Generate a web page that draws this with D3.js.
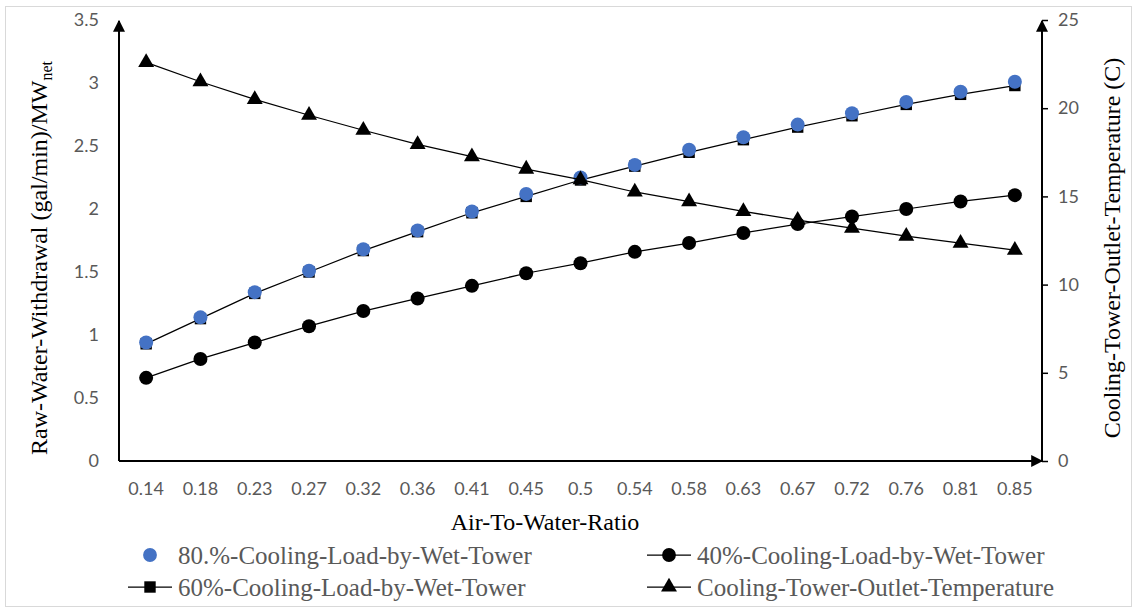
<!DOCTYPE html>
<html>
<head>
<meta charset="utf-8">
<script src="https://cdn.jsdelivr.net/npm/d3@7"></script>
<style>
  body { margin: 0; background: #fff; }
  svg { display: block; }
</style>
</head>
<body>
<svg id="chart"></svg>
<script>
// chart values
const ratios = ['0.14', '0.18', '0.23', '0.27', '0.32', '0.36', '0.41', '0.45', '0.5',
  '0.54', '0.58', '0.63', '0.67', '0.72', '0.76', '0.81', '0.85'];
const load80 = [0.94, 1.14, 1.34, 1.51, 1.68, 1.83, 1.98, 2.12, 2.25, 2.35, 2.47, 2.57, 2.67, 2.76, 2.85, 2.93, 3.01];
const load60 = [0.93, 1.13, 1.33, 1.50, 1.67, 1.82, 1.97, 2.10, 2.23, 2.34, 2.45, 2.55, 2.65, 2.74, 2.83, 2.91, 2.98];
const load40 = [0.66, 0.81, 0.94, 1.07, 1.19, 1.29, 1.39, 1.49, 1.57, 1.66, 1.73, 1.81, 1.88, 1.94, 2.00, 2.06, 2.11];
const outletTemp = [22.6, 21.5, 20.5, 19.6, 18.75, 17.95, 17.25, 16.55, 15.95, 15.25, 14.7, 14.15, 13.65, 13.2, 12.75, 12.35, 11.95];
const leftTicks = [0, 0.5, 1, 1.5, 2, 2.5, 3, 3.5];
const rightTicks = [0, 5, 10, 15, 20, 25];

const width = 1137;
const height = 609;
const margin = { left: 119, right: 95, top: 20, bottom: 148 };
const gray = '#595959';
const serif = '"Liberation Serif", "Times New Roman", serif';
const sans = 'Lato, "Open Sans", sans-serif';

const svg = d3.select('#chart')
  .attr('width', width)
  .attr('height', height);

// outer frame
svg.append('rect')
  .attr('x', 5.5).attr('y', 6.5)
  .attr('width', 1126).attr('height', 600)
  .style('fill', 'none')
  .style('stroke', '#d9d9d9');

const x = d3.scaleBand()
  .domain(ratios)
  .range([margin.left, width - margin.right]);

const yL = d3.scaleLinear()
  .domain([0, 3.5])
  .range([height - margin.bottom, margin.top]);

const yR = d3.scaleLinear()
  .domain([0, 25])
  .range([height - margin.bottom, margin.top]);

const cx = d => x(d) + x.bandwidth() / 2;

// arrow marker for axis ends
svg.append('defs').append('marker')
  .attr('id', 'arrow')
  .attr('viewBox', '0 0 10 10')
  .attr('refX', 9).attr('refY', 5)
  .attr('markerWidth', 6).attr('markerHeight', 6)
  .attr('markerUnits', 'strokeWidth')
  .attr('orient', 'auto')
  .append('path')
  .attr('d', 'M0,0L10,5L0,10Z')
  .style('fill', '#000');

// axes
const xAxis = svg.append('g')
  .attr('transform', `translate(0,${height - margin.bottom})`)
  .call(d3.axisBottom(x).tickSize(0).tickPadding(21));
xAxis.select('.domain').remove();
xAxis.selectAll('text').style('font-family', sans).style('font-size', '18px').style('fill', gray);

const leftAxis = svg.append('g')
  .attr('transform', `translate(${margin.left},0)`)
  .call(d3.axisLeft(yL).tickValues(leftTicks).tickSize(0).tickPadding(20).tickFormat(d3.format('')));
leftAxis.select('.domain').remove();
leftAxis.selectAll('text').style('font-family', sans).style('font-size', '18px').style('fill', gray);

const rightAxis = svg.append('g')
  .attr('transform', `translate(${width - margin.right},0)`)
  .call(d3.axisRight(yR).tickValues(rightTicks).tickSize(6).tickPadding(10));
rightAxis.select('.domain').remove();
rightAxis.selectAll('line').style('stroke', '#000').style('stroke-width', 1.5);
rightAxis.selectAll('text').style('font-family', sans).style('font-size', '18px').style('fill', gray);

const x0 = margin.left, x1 = width - margin.right;
const yBase = height - margin.bottom;
const axisLines = [
  [x0, yBase, x0, margin.top + 1],
  [x0, yBase, x1, yBase],
  [x1, yBase, x1, margin.top + 1]
];
svg.selectAll('.axisline')
  .data(axisLines)
  .enter()
  .append('line')
  .attr('class', 'axisline')
  .attr('x1', d => d[0]).attr('y1', d => d[1])
  .attr('x2', d => d[2]).attr('y2', d => d[3])
  .style('stroke', '#000')
  .style('stroke-width', 2)
  .attr('marker-end', 'url(#arrow)');

// series
const line = d3.line()
  .x(d => cx(d.r))
  .y(d => d.y);

const toPts = (vals, scale) => vals.map((v, i) => ({ r: ratios[i], y: scale(v) }));

const sq = toPts(load60, yL);
const c40 = toPts(load40, yL);
const c80 = toPts(load80, yL);
const tri = toPts(outletTemp, yR);

const drawLine = pts => svg.append('path')
  .attr('d', line(pts))
  .style('fill', 'none')
  .style('stroke', '#000')
  .style('stroke-width', 1.25);

const sym = (type, size) => d3.symbol().type(type).size(size)();

drawLine(sq);
svg.selectAll('.sq')
  .data(sq).enter().append('path')
  .attr('class', 'sq')
  .attr('d', sym(d3.symbolSquare, 130))
  .attr('transform', d => `translate(${cx(d.r)},${d.y})`)
  .style('fill', '#000');

drawLine(c40);
svg.selectAll('.c40')
  .data(c40).enter().append('circle')
  .attr('class', 'c40')
  .attr('cx', d => cx(d.r)).attr('cy', d => d.y)
  .attr('r', 7)
  .style('fill', '#000');

svg.selectAll('.c80')
  .data(c80).enter().append('circle')
  .attr('class', 'c80')
  .attr('cx', d => cx(d.r)).attr('cy', d => d.y)
  .attr('r', 7)
  .style('fill', '#4472c4');

drawLine(tri);
svg.selectAll('.tri')
  .data(tri).enter().append('path')
  .attr('class', 'tri')
  .attr('d', sym(d3.symbolTriangle, 110))
  .attr('transform', d => `translate(${cx(d.r)},${d.y})`)
  .style('fill', '#000');

// axis titles
svg.append('text')
  .attr('x', 545).attr('y', 530)
  .attr('text-anchor', 'middle')
  .style('font-family', serif).style('font-size', '24px')
  .text('Air-To-Water-Ratio');

const leftTitle = svg.append('text')
  .attr('transform', `translate(47,258) rotate(-90)`)
  .attr('text-anchor', 'middle')
  .style('font-family', serif).style('font-size', '24px');
leftTitle.append('tspan').text('Raw-Water-Withdrawal (gal/min)/MW');
leftTitle.append('tspan').attr('dy', 5).style('font-size', '16px').text('net');

svg.append('text')
  .attr('transform', `translate(1120,248) rotate(-90)`)
  .attr('text-anchor', 'middle')
  .style('font-family', serif).style('font-size', '24px')
  .text('Cooling-Tower-Outlet-Temperature (C)');

// legend
const legend = [
  { label: '80.%-Cooling-Load-by-Wet-Tower', kind: 'blue', lx: 150, ly: 555, line: false },
  { label: '60%-Cooling-Load-by-Wet-Tower', kind: 'square', lx: 150, ly: 587, line: true },
  { label: '40%-Cooling-Load-by-Wet-Tower', kind: 'circle', lx: 669, ly: 555, line: true },
  { label: 'Cooling-Tower-Outlet-Temperature', kind: 'triangle', lx: 669, ly: 587, line: true }
];

const lg = svg.selectAll('.lg')
  .data(legend).enter().append('g')
  .attr('class', 'lg')
  .attr('transform', d => `translate(${d.lx},${d.ly})`);

lg.filter(d => d.line).append('line')
  .attr('x1', -22).attr('x2', 22)
  .style('stroke', '#000').style('stroke-width', 1.25);

lg.append('path')
  .attr('d', d => d.kind === 'square' ? sym(d3.symbolSquare, 130)
    : d.kind === 'triangle' ? sym(d3.symbolTriangle, 110)
    : sym(d3.symbolCircle, 150))
  .style('fill', d => d.kind === 'blue' ? '#4472c4' : '#000');

lg.append('text')
  .attr('x', 28).attr('dy', '0.35em')
  .style('font-family', serif).style('font-size', '25px')
  .style('fill', gray)
  .text(d => d.label);
</script>
</body>
</html>
